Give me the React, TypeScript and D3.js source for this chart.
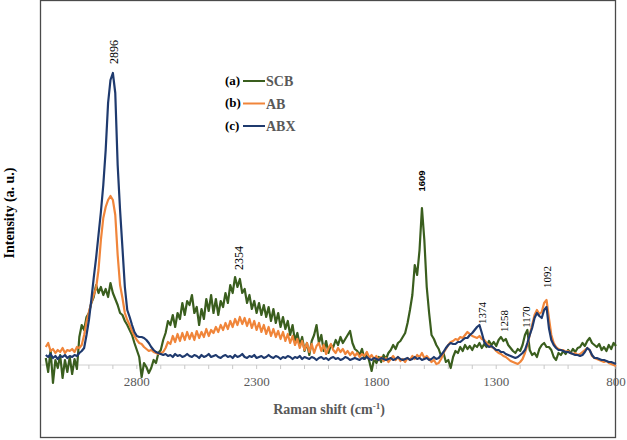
import React from "react";
import * as d3 from "d3";

// Raman shift grid (cm-1), 3180 down to 800, every 10 cm-1
const WAVENUMBERS: number[] = d3.range(3180, 799, -10);

// Intensities (a. u.), one value per wavenumber
const SCB: number[] = [
  7, -7, 15, -18, 5, -3, 10, -13, 5, -7,
  8, -9, 6, -4, 28, 40, 35, 48, 52, 62,
  68, 80, 72, 78, 70, 76, 68, 82, 72, 66,
  60, 52, 50, 44, 40, 35, 30, 22, 15, 8,
  -12, 2, -2, -8, -3, 5, 2, 12, 15, 25,
  32, 44, 40, 50, 38, 52, 46, 62, 50, 64,
  60, 70, 52, 58, 40, 56, 46, 66, 54, 70,
  52, 66, 50, 64, 58, 72, 62, 80, 72, 88,
  78, 86, 72, 76, 62, 70, 56, 64, 52, 62,
  50, 60, 48, 58, 44, 56, 42, 52, 38, 48,
  36, 44, 30, 40, 24, 32, 20, 28, 14, 22,
  10, 24, 30, 40, 22, 30, 14, 24, 12, 20,
  18, 25, 20, 28, 22, 26, 30, 34, 22, 16,
  14, 10, 16, 6, 12, 4, -6, 6, 2, 8,
  3, 10, 6, 12, 15, 20, 16, 22, 24, 28,
  32, 42, 55, 70, 100, 90, 115, 157, 125, 78,
  52, 30, 26, 20, 16, 9, 12, 3, 5, -3,
  8, 14, 12, 18, 14, 20, 16, 19, 15, 20,
  18, 22, 17, 21, 18, 24, 20, 23, 19, 25,
  28, 24, 26, 20, 17, 14, 12, 16, 14, 20,
  30, 35, 15, 10, 12, 8, 16, 20, 22, 18,
  18, 15, 8, 5, 12, 10, 14, 11, 15, 12,
  16, 13, 17, 18, 22, 19, 24, 27, 22, 20,
  18, 21, 15, 18, 14, 20, 16, 22, 19,
];

const AB: number[] = [
  18, 22, 14, 16, 12, 15, 13, 17, 12, 15,
  14, 16, 13, 18, 17, 20, 30, 43, 53, 62,
  70, 77, 95, 125, 147, 158, 165, 169, 165, 150,
  110, 80, 67, 52, 45, 40, 34, 29, 25, 22,
  21, 18, 16, 14, 15, 13, 12, 11, 12, 13,
  17, 23, 21, 29, 23, 31, 24, 32, 25, 33,
  26, 32, 25, 34, 27, 33, 28, 36, 29, 35,
  32, 38, 33, 40, 35, 42, 36, 44, 38, 46,
  40, 48, 41, 47, 39, 46, 37, 44, 35, 42,
  33, 40, 31, 38, 29, 36, 28, 34, 26, 33,
  24, 31, 22, 29, 20, 26, 17, 24, 15, 22,
  13, 21, 12, 19, 22, 14, 20, 11, 17, 21,
  15, 12, 17, 13, 16, 11, 14, 10, 13, 9,
  12, 8, 11, 9, 13, 7, 10, 6, 9, 5,
  8, 4, 7, 3, 6, 9, 5, 8, 4, 6,
  3, 7, 5, 9, 6, 10, 8, 12, 7, 9,
  6, 3, 5, 1, 2, 6, 12, 16, 20, 23,
  24, 26, 25, 28, 27, 30, 33, 31, 29, 28,
  27, 29, 26, 25, 22, 20, 18, 17, 14, 12,
  11, 9, 8, 6, 4, 3, 2, 1, 3, 6,
  12, 20, 30, 40, 50, 55, 51, 53, 62, 65,
  47, 30, 22, 18, 16, 15, 15, 13, 14, 12,
  11, 12, 10, 11, 13, 15, 17, 15, 9, 7,
  6, 5, 4, 3, 4, 2, 1, 0, -1,
];

const ABX: number[] = [
  10, 8, 11, 7, 9, 6, 9, 8, 10, 7,
  9, 8, 10, 9, 12, 14, 17, 30, 45, 65,
  87, 107, 130, 153, 180, 215, 262, 285, 292, 272,
  200, 155, 117, 78, 55, 48, 40, 33, 29, 28,
  28, 27, 25, 22, 18, 15, 13, 12, 11, 10,
  11, 9, 10, 8, 11, 9, 10, 8, 9, 11,
  9, 8, 10, 9, 7, 10, 8, 9, 11, 8,
  9, 10, 8, 7, 9, 10, 8, 9, 7, 10,
  8, 9, 11, 8, 7, 9, 8, 10, 7, 8,
  9, 7, 8, 10, 8, 7, 9, 8, 6, 8,
  7, 9, 8, 6, 8, 7, 9, 6, 8, 7,
  6, 8, 7, 5, 7, 8, 6, 7, 5, 7,
  8, 6, 7, 5, 6, 8, 7, 5, 6, 7,
  6, 5, 7, 6, 8, 6, 5, 7, 6, 5,
  7, 6, 5, 6, 7, 5, 6, 8, 6, 5,
  6, 7, 5, 6, 8, 6, 7, 5, 6, 7,
  5, 6, 8, 6, 7, 10, 13, 17, 20, 22,
  21, 21, 23, 23, 25, 27, 27, 30, 32, 35,
  38, 40, 32, 23, 20, 18, 19, 17, 15, 15,
  13, 13, 11, 10, 9, 8, 7, 8, 10, 12,
  15, 22, 30, 37, 47, 52, 49, 47, 55, 58,
  37, 25, 20, 17, 15, 15, 14, 13, 13, 12,
  11, 10, 10, 9, 10, 13, 17, 15, 10, 7,
  7, 6, 5, 5, 4, 3, 3, 2, 1,
];

const SERIES_NAMES = ["SCB", "AB", "ABX"];
const SERIES_TAGS = ["(a)", "(b)", "(c)"];
const SERIES_COLORS = ["#3a5e1e", "#f0853a", "#1f3a6e"];

const X_TICK_LABELS = [2800, 2300, 1800, 1300, 800];
const X_MINOR_TICKS = [3100, 3000, 2900, 2800, 2700, 2600, 2500, 2400, 2300, 2200, 2100, 2000, 1900, 1800, 1700, 1600, 1500, 1400, 1300, 1200, 1100, 1000, 900, 800];

const PEAK_LABELS = ["2896", "2354", "1609", "1374", "1258", "1170", "1092"];
const PEAK_AT = [2896, 2374, 1610, 1360, 1268, 1176, 1088];
const PEAK_HEIGHT = [313, 107, 184, 52, 44, 48, 88];

const SERIF = "'Liberation Serif', 'Times New Roman', serif";

export default function App() {
  const W = 627;
  const H = 440;
  const x = d3.scaleLinear().domain([3200, 800]).range([41, 616]);
  const y = d3.scaleLinear().domain([0, 300]).range([365, 65]);

  const seriesData = [SCB, AB, ABX];
  const line = d3
    .line<[number, number]>()
    .x((d) => x(d[0]))
    .y((d) => y(d[1]));

  return (
    <svg
      width={W}
      height={H}
      style={{ position: "absolute", left: 0, top: 0, background: "#fff" }}
    >
      <rect x={0} y={0} width={W} height={H} fill="#fff" />
      {/* chart border */}
      <rect x={40.5} y={0.5} width={575} height={437} fill="none" stroke="#4a4a4a" strokeWidth={1.3} />

      {/* x axis */}
      <line x1={x(3200)} x2={x(800)} y1={y(0)} y2={y(0)} stroke="#d0d0d0" strokeWidth={1} />
      {X_MINOR_TICKS.map((t) => (
        <line key={t} x1={x(t)} x2={x(t)} y1={y(0)} y2={y(0) + 4} stroke="#c8c8c8" strokeWidth={1} />
      ))}
      {X_TICK_LABELS.map((t) => (
        <text
          key={t}
          x={x(t)}
          y={386}
          textAnchor="middle"
          fontFamily={SERIF}
          fontSize={13}
          fill="#595959"
        >
          {t}
        </text>
      ))}

      {/* series */}
      {seriesData.map((vals, si) => {
        const pts: [number, number][] = WAVENUMBERS.slice(0, vals.length).map((w, i) => [w, vals[i]]);
        return (
          <path
            key={si}
            d={line(pts) || ""}
            fill="none"
            stroke={SERIES_COLORS[si]}
            strokeWidth={2.2}
            strokeLinejoin="round"
          />
        );
      })}

      {/* peak labels */}
      {PEAK_LABELS.map((lab, i) => {
        const bold = lab === "1609";
        const fs = lab === "2896" || lab === "2354" ? 12 : bold ? 9.5 : 11;
        const cx = x(PEAK_AT[i]) + fs * 0.36;
        const cy = y(PEAK_HEIGHT[i]);
        return (
          <text
            key={lab}
            transform={`translate(${cx},${cy}) rotate(-90)`}
            textAnchor="middle"
            fontFamily={bold ? "'Liberation Sans', Arial, sans-serif" : SERIF}
            fontWeight={bold ? "bold" : "normal"}
            fontSize={fs}
            fill="#000"
          >
            {lab}
          </text>
        );
      })}

      {/* legend */}
      {SERIES_NAMES.map((name, i) => {
        const ly = 81 + i * 22.5;
        return (
          <g key={name}>
            <text x={225} y={ly + 3.5} fontFamily={SERIF} fontWeight="bold" fontSize={13} fill="#000">
              {SERIES_TAGS[i]}
            </text>
            <line x1={243} x2={265} y1={ly} y2={ly} stroke={SERIES_COLORS[i]} strokeWidth={2} />
            <text x={266} y={ly + 5} fontFamily={SERIF} fontWeight="bold" fontSize={14} fill="#595959">
              {name}
            </text>
          </g>
        );
      })}

      {/* axis titles */}
      <text x={329} y={414} textAnchor="middle" fontFamily={SERIF} fontWeight="bold" fontSize={14} fill="#595959">
        Raman shift (cm
        <tspan dy={-5} fontSize={9}>-1</tspan>
        <tspan dy={5}>)</tspan>
      </text>
      <text
        transform="translate(14,213) rotate(-90)"
        textAnchor="middle"
        fontFamily={SERIF}
        fontWeight="bold"
        fontSize={14}
        fill="#000"
      >
        Intensity (a. u.)
      </text>
    </svg>
  );
}
